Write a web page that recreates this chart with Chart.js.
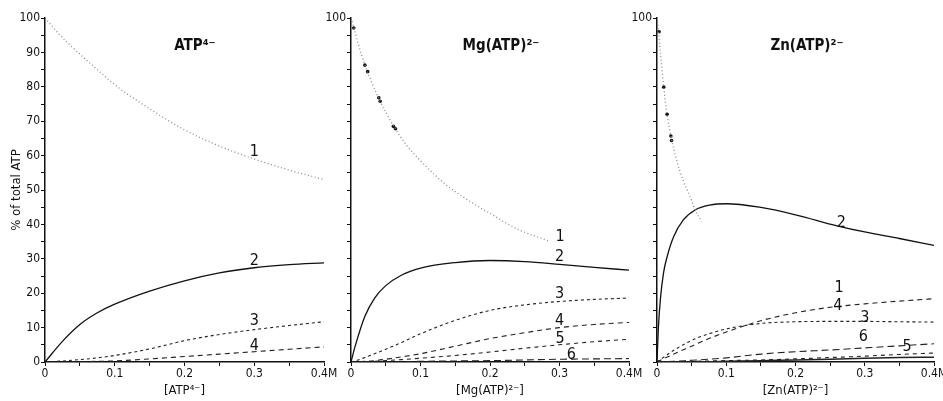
<!DOCTYPE html>
<html>
<head>
<meta charset="utf-8">
<script src="https://cdn.jsdelivr.net/npm/chart.js@4.4.0/dist/chart.umd.min.js"></script>
<style>
  html, body { margin: 0; padding: 0; background: #fff; }
  #wrap { position: relative; width: 943px; height: 401px; }
  #wrap canvas { position: absolute; left: 0; top: 0; }
</style>
</head>
<body>
<div id="wrap">
  <canvas id="chartAtp" width="943" height="401"></canvas>
  <canvas id="chartMg" width="943" height="401"></canvas>
  <canvas id="chartZn" width="943" height="401"></canvas>
</div>
<script>
// Данные (% от общего ATP против концентрации, M)
const xTickLabels = ['0', '0.1', '0.2', '0.3', '0.4M'];

// ATP4-
const xAtp = [0, 0.025, 0.05, 0.075, 0.1, 0.15, 0.2, 0.25, 0.3, 0.35, 0.4];
const atp1 = [100, 94.3, 89.5, 85, 80.6, 73.6, 67.5, 62.8, 59, 55.8, 53];
const atp2 = [0, 6.0, 10.9, 14.3, 16.8, 20.6, 23.6, 25.9, 27.4, 28.3, 28.8];
const atp3 = [0, 0.3, 0.7, 1.2, 1.9, 3.8, 6.2, 8, 9.4, 10.6, 11.7];
const atp4 = [0, 0, 0.1, 0.2, 0.3, 0.9, 1.6, 2.3, 3.0, 3.7, 4.4];

// Mg(ATP)2-
const xMg1 = [0, 0.004, 0.01, 0.02, 0.03, 0.04, 0.05, 0.062, 0.08, 0.1, 0.12, 0.14, 0.175, 0.2, 0.24, 0.287];
const mg1 = [100, 97.3, 92.8, 86.3, 81.2, 76.6, 72.6, 68.4, 63, 58.5, 54.5, 51, 46.2, 43.2, 38.6, 35];
const xMgDots = [0.004, 0.02, 0.024, 0.04, 0.042, 0.061, 0.064];
const mgDots = [97.1, 86.3, 84.4, 76.8, 75.8, 68.5, 67.8];
const xMg = [0, 0.006, 0.02, 0.034, 0.05, 0.073, 0.1, 0.15, 0.2, 0.25, 0.3, 0.35, 0.4];
const mg2 = [0, 4.6, 13.3, 18.6, 22.2, 25.3, 27.3, 28.9, 29.5, 29.2, 28.4, 27.5, 26.7];
const mg3 = [0, 0.3, 1.3, 2.4, 3.7, 5.7, 8.2, 12.1, 15, 16.6, 17.6, 18.2, 18.6];
const mg4 = [0, 0, 0.2, 0.4, 0.8, 1.5, 2.4, 4.6, 6.8, 8.5, 10, 10.9, 11.5];
const mg5 = [0, 0, 0.1, 0.2, 0.4, 0.7, 1.1, 1.9, 2.9, 4, 5, 5.9, 6.6];
const mg6 = [0, 0, 0, 0, 0, 0.1, 0.2, 0.3, 0.4, 0.6, 0.8, 0.9, 1.0];

// Zn(ATP)2-
const xZn1 = [0, 0.001, 0.005, 0.0097, 0.0146, 0.02, 0.028, 0.0374, 0.047, 0.055, 0.0646];
const zn1 = [100, 98.5, 89.8, 79.9, 72, 65.7, 59, 52.9, 48.5, 44.2, 40.8];
const xZnDots = [0.003, 0.0097, 0.0146, 0.02, 0.021];
const znDots = [96, 79.9, 72, 65.7, 64.4];
const xZn2 = [0, 0.002, 0.005, 0.0095, 0.0146, 0.024, 0.038, 0.055, 0.076, 0.1, 0.148, 0.2, 0.26, 0.3, 0.35, 0.4];
const zn2 = [0, 10, 18.5, 26, 30.6, 36.4, 41.3, 44.2, 45.6, 46, 45, 42.8, 39.6, 37.8, 35.9, 33.9];
const xZn = [0, 0.025, 0.05, 0.075, 0.1, 0.15, 0.2, 0.25, 0.3, 0.35, 0.4];
const zn3 = [0, 3.5, 6.3, 8.2, 9.6, 11.2, 11.7, 11.8, 11.8, 11.7, 11.6];
const zn4 = [0, 2.4, 4.6, 6.8, 8.7, 12.0, 14.3, 15.9, 16.9, 17.7, 18.4];
const zn5 = [0, 0.1, 0.2, 0.3, 0.4, 0.6, 0.9, 1.3, 1.7, 2.2, 2.6];
const zn6 = [0, 0.2, 0.5, 0.8, 1.2, 2.3, 3.0, 3.5, 4.1, 4.7, 5.3];
const zn7 = [0, 0, 0.1, 0.1, 0.2, 0.4, 0.6, 0.8, 1.1, 1.3, 1.4];

// Номера кривых: [текст, x, y] в координатах данных
const marksAtp = [['1', 0.3, 61], ['2', 0.3, 29.5], ['3', 0.3, 12], ['4', 0.3, 4.6]];
const marksMg = [['1', 0.301, 36.5], ['2', 0.3, 30.6], ['3', 0.3, 19.8], ['4', 0.3, 12], ['5', 0.301, 6.6], ['6', 0.317, 2.2]];
const marksZn = [['1', 0.263, 21.5], ['2', 0.266, 40.5], ['4', 0.261, 16.2], ['3', 0.3, 12.8], ['6', 0.298, 7.2], ['5', 0.361, 4.3]];

const FONT = '"DejaVu Sans Condensed", "DejaVu Sans", sans-serif';
const INK = '#111';
const PLOT_TOP = 18;
const PLOT_BOTTOM = 362;

const lineStyles = {
    1: { borderColor: '#8a8a8a', borderWidth: 1.3, borderDash: [1, 2.5] },
    2: { borderColor: INK, borderWidth: 1.3, borderDash: [] },
    3: { borderColor: '#222', borderWidth: 1.1, borderDash: [3, 3] },
    4: { borderColor: '#222', borderWidth: 1.1, borderDash: [5, 4] },
    5: { borderColor: '#222', borderWidth: 1.1, borderDash: [4, 4] },
    6: { borderColor: '#222', borderWidth: 1.1, borderDash: [7, 4] },
    7: { borderColor: '#222', borderWidth: 1.4, borderDash: [] }
};

function pts(xs, ys) {
    return xs.map((x, i) => ({ x, y: ys[i] }));
}

function curve(xs, ys, n) {
    return Object.assign({
        data: pts(xs, ys),
        pointRadius: 0,
        fill: false,
        cubicInterpolationMode: 'monotone'
    }, lineStyles[n]);
}

function dots(xs, ys) {
    return {
        data: pts(xs, ys),
        showLine: false,
        pointRadius: 1.8,
        pointBackgroundColor: INK,
        pointBorderWidth: 0
    };
}

// Подписи кривых и заголовок панели
const panelText = {
    id: 'panelText',
    afterDatasetsDraw(chart, args, opts) {
        const { ctx, chartArea, scales: { x, y } } = chart;
        ctx.save();
        ctx.fillStyle = INK;
        ctx.textAlign = 'center';
        ctx.textBaseline = 'middle';
        ctx.font = '16px ' + FONT;
        opts.marks.forEach(([t, mx, my]) => {
            ctx.fillText(t, x.getPixelForValue(mx), y.getPixelForValue(my));
        });
        ctx.font = 'bold 15px ' + FONT;
        ctx.fillText(opts.title, chartArea.left + 150, 46);
        ctx.restore();
    }
};

function makePanel(id, cfg) {
    const axisGrid = { drawOnChartArea: false, drawTicks: true, tickLength: 4, color: INK, lineWidth: 1 };
    const axisBorder = { color: INK, width: 1.5 };
    new Chart(document.getElementById(id), {
        type: 'line',
        data: { datasets: cfg.datasets },
        options: {
            responsive: false,
            animation: false,
            layout: { padding: { left: cfg.left - cfg.yWidth, right: 943 - cfg.right, top: PLOT_TOP, bottom: 0 } },
            plugins: {
                legend: { display: false },
                tooltip: { enabled: false },
                panelText: { marks: cfg.marks, title: cfg.title }
            },
            scales: {
                x: {
                    type: 'linear',
                    min: 0,
                    max: 0.4,
                    ticks: {
                        stepSize: 0.05,
                        autoSkip: false,
                        maxRotation: 0,
                        padding: 1,
                        color: INK,
                        font: { family: FONT, size: 12 },
                        callback: v => {
                            const k = Math.round(v * 100);
                            return k % 10 === 0 ? xTickLabels[k / 10] : '';
                        }
                    },
                    grid: axisGrid,
                    border: axisBorder,
                    title: {
                        display: true,
                        text: cfg.xTitle,
                        color: INK,
                        font: { family: FONT, size: 13 },
                        padding: { top: 0, bottom: 3 }
                    },
                    afterFit: a => {
                        a.height = 401 - PLOT_BOTTOM;
                        a.paddingLeft = 0;
                        a.paddingRight = 0;
                    }
                },
                y: {
                    min: 0,
                    max: 100,
                    ticks: {
                        stepSize: 5,
                        autoSkip: false,
                        padding: 1,
                        color: INK,
                        font: { family: FONT, size: 12 },
                        callback: cfg.yLabel
                    },
                    grid: axisGrid,
                    border: axisBorder,
                    title: cfg.yTitle
                        ? { display: true, text: cfg.yTitle, color: INK, font: { family: FONT, size: 13 }, padding: { top: 9, bottom: 0 } }
                        : { display: false },
                    afterFit: a => { a.width = cfg.yWidth; }
                }
            }
        },
        plugins: [panelText]
    });
}

makePanel('chartAtp', {
    left: 45, right: 324, yWidth: 45,
    title: 'ATP⁴⁻', xTitle: '[ATP⁴⁻]', yTitle: '% of total ATP',
    yLabel: v => (v % 10 === 0 ? String(v) : ''),
    marks: marksAtp,
    datasets: [
        curve(xAtp, atp1, 1), curve(xAtp, atp2, 2), curve(xAtp, atp3, 3), curve(xAtp, atp4, 4)
    ]
});

makePanel('chartMg', {
    left: 351, right: 629, yWidth: 30,
    title: 'Mg(ATP)²⁻', xTitle: '[Mg(ATP)²⁻]', yTitle: null,
    yLabel: v => (v === 100 ? '100' : ''),
    marks: marksMg,
    datasets: [
        curve(xMg1, mg1, 1), dots(xMgDots, mgDots),
        curve(xMg, mg2, 2), curve(xMg, mg3, 3), curve(xMg, mg4, 4), curve(xMg, mg5, 5), curve(xMg, mg6, 6)
    ]
});

makePanel('chartZn', {
    left: 657, right: 934, yWidth: 30,
    title: 'Zn(ATP)²⁻', xTitle: '[Zn(ATP)²⁻]', yTitle: null,
    yLabel: v => (v === 100 ? '100' : ''),
    marks: marksZn,
    datasets: [
        curve(xZn1, zn1, 1), dots(xZnDots, znDots),
        curve(xZn2, zn2, 2), curve(xZn, zn3, 3), curve(xZn, zn4, 4), curve(xZn, zn5, 5), curve(xZn, zn6, 6), curve(xZn, zn7, 7)
    ]
});
</script>
</body>
</html>
